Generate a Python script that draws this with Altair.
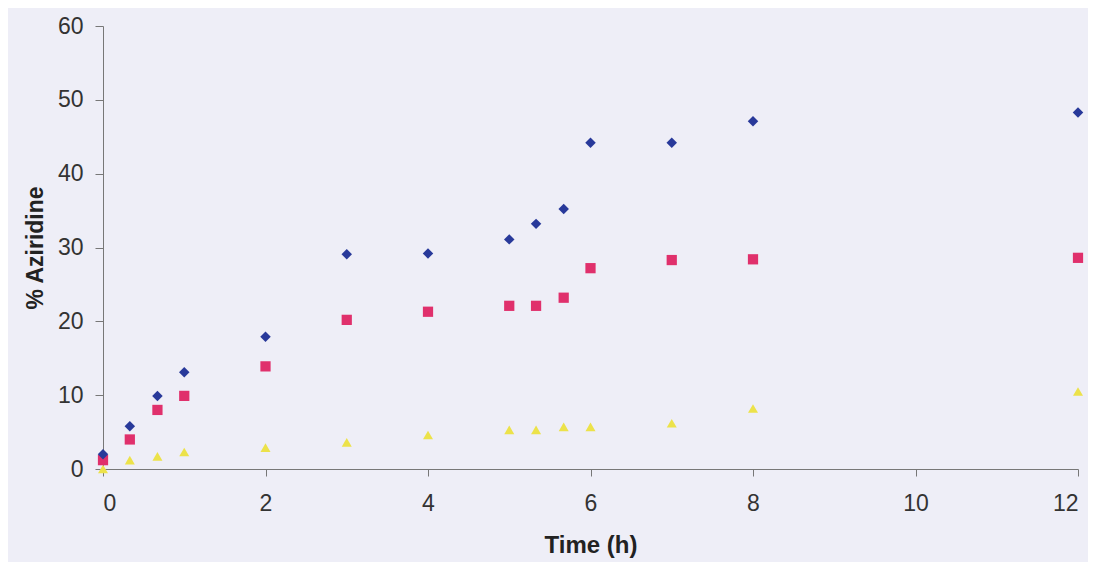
import altair as alt
import pandas as pd

time_h = [0, 0.33, 0.67, 1, 2, 3, 4, 5, 5.33, 5.67, 6, 7, 8, 12]
series_a = [2.0, 5.8, 9.9, 13.1, 17.9, 29.1, 29.2, 31.1, 33.2, 35.2, 44.2, 44.2, 47.1, 48.3]
series_b = [1.2, 4.0, 8.0, 9.9, 13.9, 20.2, 21.3, 22.1, 22.1, 23.2, 27.2, 28.3, 28.4, 28.6]
series_c = [0.0, 1.2, 1.7, 2.3, 2.9, 3.6, 4.6, 5.3, 5.3, 5.7, 5.7, 6.2, 8.2, 10.5]

names = ["A", "B", "C"]
shapes = ["diamond", "square", "triangle-up"]
colors = ["#28399a", "#e0306c", "#ece24a"]
sizes = [110, 100, 160]

rows = []
for name, vals in zip(names, [series_a, series_b, series_c]):
    for t, v in zip(time_h, vals):
        rows.append({"t": t, "v": v, "s": name})
df = pd.DataFrame(rows)

FONT = "Liberation Sans"

x = alt.X("t:Q", title="Time (h)",
          scale=alt.Scale(domain=[0, 12], nice=False),
          axis=alt.Axis(values=[0, 2, 4, 6, 8, 10, 12], grid=False, labelFontSize=23,
                        titleFontSize=24, titleFontWeight="bold", titlePadding=18,
                        labelPadding=16, tickSize=7, domainColor="#777777",
                        tickColor="#777777", labelColor="#333333", titleColor="#222222",
                        labelFont=FONT, titleFont=FONT))
y = alt.Y("v:Q", title="% Aziridine",
          scale=alt.Scale(domain=[0, 60], nice=False),
          axis=alt.Axis(values=[0, 10, 20, 30, 40, 50, 60], grid=False, labelFontSize=23,
                        titleFontSize=23, titleFontWeight="bold", titlePadding=10,
                        labelPadding=12, tickSize=8, domainColor="#777777",
                        tickColor="#777777", labelColor="#333333", titleColor="#222222",
                        labelFont=FONT, titleFont=FONT))

chart = alt.Chart(df).mark_point(filled=True, opacity=1, clip=False).encode(
    x=x, y=y,
    shape=alt.Shape("s:N", scale=alt.Scale(domain=names, range=shapes), legend=None),
    color=alt.Color("s:N", scale=alt.Scale(domain=names, range=colors), legend=None),
    size=alt.Size("s:N", scale=alt.Scale(domain=names, range=sizes), legend=None),
    order=alt.Order("s:N", sort="descending"),
).properties(
    width=975, height=443,
    autosize=alt.AutoSizeParams(type="none"),
    padding={"left": 95, "top": 18, "right": 10, "bottom": 96},
    background="#eeeef7",
).configure_view(stroke=None)

chart.save("out.html", embed_options={"renderer": "svg", "actions": False})
